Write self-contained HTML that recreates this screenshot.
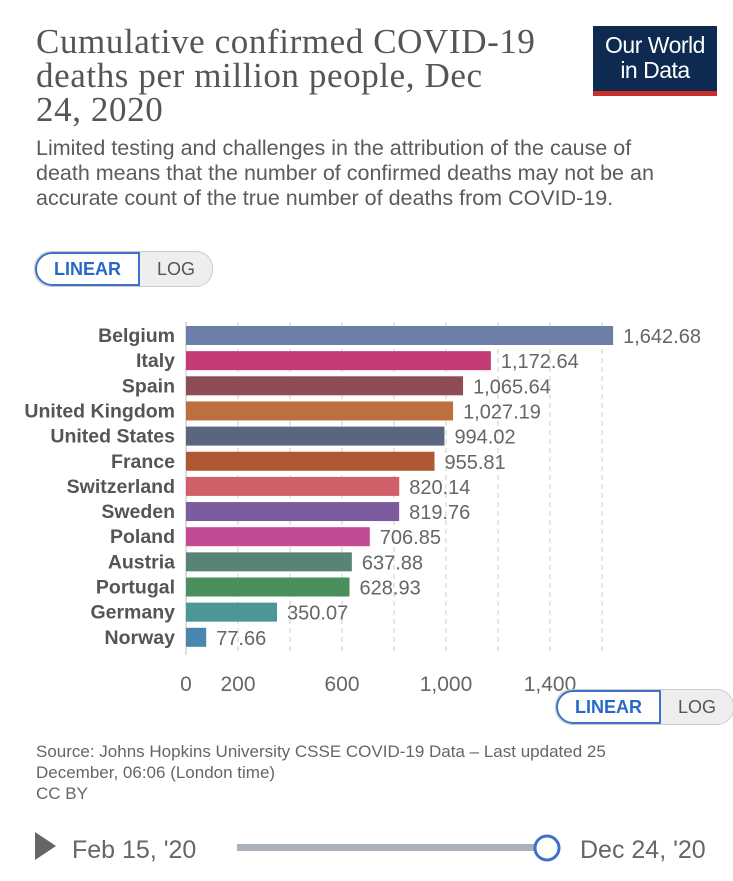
<!DOCTYPE html>
<html><head><meta charset="utf-8"><style>
body{margin:0;width:733px;height:881px;background:#fff;overflow:hidden;font-family:"Liberation Sans",sans-serif;position:relative}
.abs{position:absolute}
#title{left:36px;top:25px;width:560px;white-space:nowrap;font-family:"Liberation Serif",serif;font-size:35px;letter-spacing:0.6px;line-height:34px;color:#555}
#sub{left:36px;top:136px;width:690px;white-space:nowrap;font-size:21.5px;line-height:25px;color:#5b5b5b}
#logo{left:593px;top:26px;width:124px;height:70px;background:#0e2a51;border-bottom:5px solid #c9302c;color:#fff;font-size:23px;line-height:25px;text-align:center;box-sizing:border-box;padding-top:7px;letter-spacing:-0.5px}
.tog{height:34px;border:1px solid #ccc;border-radius:17px;display:flex;overflow:hidden;font-size:18px;background:#eee}
.tog span{padding:0 17px;line-height:34px}
.tog .on{color:#2868c8;font-weight:bold;background:#fff;border:2px solid #3d72c9;border-radius:17px 0 0 17px;line-height:30px}
.tog .off{color:#555}
#src{left:36px;top:741px;font-size:17px;line-height:21px;color:#666}
</style></head><body>
<div id="title" class="abs">Cumulative confirmed COVID-19<br>deaths per million people, Dec<br>24, 2020</div>
<div id="logo" class="abs">Our World<br>in Data</div>
<div id="sub" class="abs">Limited testing and challenges in the attribution of the cause of<br>death means that the number of confirmed deaths may not be an<br>accurate count of the true number of deaths from COVID-19.</div>
<div class="abs tog" style="left:34px;top:251px"><span class="on">LINEAR</span><span class="off">LOG</span></div>
<svg class="abs" style="left:0;top:0" width="733" height="740" id="chart"></svg>
<div class="abs tog" style="left:555px;top:689px"><span class="on">LINEAR</span><span class="off">LOG</span></div>
<div id="src" class="abs">Source: Johns Hopkins University CSSE COVID-19 Data – Last updated 25<br>December, 06:06 (London time)<br>CC BY</div>
<svg class="abs" style="left:0;top:820px" width="733" height="60">
<polygon points="35,12 56,26 35,40" fill="#666"/>
<text x="72" y="38" font-size="25" fill="#666" font-family="Liberation Sans">Feb 15, '20</text>
<rect x="237" y="24" width="310" height="7" fill="#a9b0b8"/>
<circle cx="547" cy="28" r="12" fill="#fff" stroke="#3d72c9" stroke-width="3"/>
<text x="580" y="38" font-size="25" fill="#666" font-family="Liberation Sans">Dec 24, '20</text>
</svg>
<script>
const countries=["Belgium","Italy","Spain","United Kingdom","United States","France","Switzerland","Sweden","Poland","Austria","Portugal","Germany","Norway"];
const values=[1642.68,1172.64,1065.64,1027.19,994.02,955.81,820.14,819.76,706.85,637.88,628.93,350.07,77.66];
const colors=["#6d7fa8","#c23b77","#8d4c56","#bd6f3f","#5a6680","#b05734","#cf5f69","#7b5c9e","#c24a93","#578477","#4a8f5d","#4b9795","#4a86ad"];
const gridTicks=[0,200,400,600,800,1000,1200,1400,1600];
const tickLabels=[0,200,600,1000,1400];
const svg=document.getElementById('chart');
const NS='http://www.w3.org/2000/svg';
const x0=186,scale=0.26,top0=326,pitch=25.15,bh=19;
const X=v=>x0+v*scale;
const Y=i=>top0+i*pitch;
function mk(t,a){const e=document.createElementNS(NS,t);for(const k in a)e.setAttribute(k,a[k]);svg.appendChild(e);return e;}
gridTicks.forEach(t=>{
 const l=mk('line',{x1:X(t),x2:X(t),y1:322,y2:655,stroke:t===0?'#bbb':'#ccc','stroke-dasharray':t===0?'none':'5,4'});
 
 
});
tickLabels.forEach(t=>{
 const e=mk('text',{x:X(t),y:691,'text-anchor':'middle','font-size':21,fill:'#666'});
 e.textContent=t.toLocaleString('en-US');
 
 
});
countries.forEach((c,i)=>{
 const lab=mk('text',{x:175,y:Y(i)+16,'text-anchor':'end','font-size':19.5,'font-weight':'bold',fill:'#555'});
 lab.textContent=c;
 
 
 const r=mk('rect',{x:x0,y:Y(i),width:X(values[i])-x0,height:bh,fill:colors[i]});
 
 
 const v=mk('text',{x:X(values[i])+10,y:Y(i)+17,'font-size':20,fill:'#666'});
 v.textContent=values[i].toLocaleString('en-US',{minimumFractionDigits:2});
 
 
});
</script>
</body></html>
